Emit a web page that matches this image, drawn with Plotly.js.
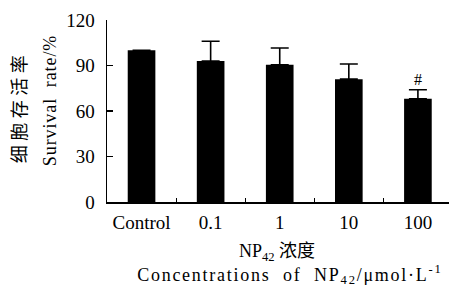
<!DOCTYPE html>
<html>
<head>
<meta charset="utf-8">
<script src="https://cdn.plot.ly/plotly-3.0.1.min.js"></script>
<style>html,body{margin:0;padding:0;background:#fff;}#chart{width:449px;height:286px;}</style>
</head>
<body>
<div id="chart"></div>
<script>
const categories = ["Control", "0.1", "1", "10", "100"];
const survival = [100, 93, 90.5, 81, 68];
const errorUp = [null, 13, 11, 10, 6];
const markLabels = ["", "", "", "", "#"];
const yTicks = [0, 30, 60, 90, 120];

const serif = "Liberation Serif, Times New Roman, Noto Sans CJK SC, serif";

const trace = {
  type: "bar",
  x: categories,
  y: survival,
  width: 0.4,
  marker: {color: "#000", line: {width: 0}},
  error_y: {type: "data", symmetric: false, array: errorUp, arrayminus: errorUp.map(v => v === null ? null : 0),
            color: "#000", thickness: 1.6, width: 9, visible: true},
  hoverinfo: "none"
};

const annotations = [];
markLabels.forEach((t, i) => {
  if (t) annotations.push({x: i, y: survival[i] + (errorUp[i] || 0), xref: "x", yref: "y", text: t,
    showarrow: false, yanchor: "bottom", yshift: 0, font: {family: serif, size: 16, color: "#000"}});
});
annotations.push({xref: "paper", yref: "paper", x: 0.497, y: -0.278, text: "NP<sub>42</sub> 浓度",
  showarrow: false, xanchor: "center", yanchor: "middle", font: {family: serif, size: 18, color: "#000"}});
annotations.push({xref: "paper", yref: "paper", x: 0.535, y: -0.40, text: "Concentrations  of  NP<sub>42</sub>/μmol·L<sup>-1</sup>",
  showarrow: false, xanchor: "center", yanchor: "middle", font: {family: serif, size: 18, color: "#000"}});
annotations.push({xref: "paper", yref: "paper", x: -0.254, y: 0.51, text: "细 胞 存 活 率",
  showarrow: false, textangle: -90, xanchor: "center", yanchor: "middle", font: {family: serif, size: 18, color: "#000"}});
annotations.push({xref: "paper", yref: "paper", x: -0.167, y: 0.56, text: "Survival  rate/%",
  showarrow: false, textangle: -90, xanchor: "center", yanchor: "middle", font: {family: serif, size: 18, color: "#000"}});

const layout = {
  width: 449, height: 286,
  margin: {l: 107, r: 0, t: 20, b: 84, pad: 0},
  paper_bgcolor: "#fff", plot_bgcolor: "#fff",
  showlegend: false,
  xaxis: {type: "category", range: [-0.5, 4.45], showline: true, linecolor: "#000", linewidth: 1.5,
          ticks: "inside", tickson: "boundaries", ticklen: 4, tickcolor: "#000", tickwidth: 1,
          showgrid: false, zeroline: false, ticklabelstandoff: 3,
          tickfont: {family: serif, size: 19, color: "#000"}},
  yaxis: {range: [0, 120], tickvals: yTicks, ticktext: yTicks.map(String), showline: true, linecolor: "#000", linewidth: 1.5,
          ticks: "inside", ticklen: 6, tickcolor: "#000", tickwidth: 1.5,
          showgrid: false, zeroline: false, ticklabelstandoff: 7,
          tickfont: {family: serif, size: 19, color: "#000"}},
  annotations: annotations
};

Plotly.newPlot("chart", [trace], layout, {displayModeBar: false, staticPlot: true}).then(gd => {
  const texts = gd.querySelectorAll(".annotation-text");
  texts.forEach(el => {
    const s = el.textContent;
    if (s.indexOf("Concentrations") === 0) el.style.letterSpacing = "1.75px";
    if (s.indexOf("Survival") === 0) el.style.letterSpacing = "0.9px";
  });
});
</script>
</body>
</html>
